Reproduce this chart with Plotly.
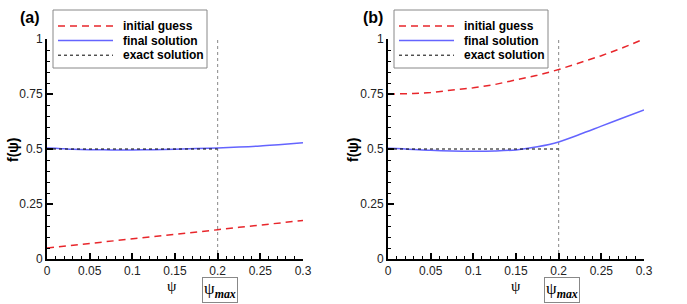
import plotly.graph_objects as go

# ---- data ----
psi = [0, 0.01, 0.02, 0.03, 0.05, 0.075, 0.1, 0.125, 0.15, 0.175, 0.2, 0.225, 0.25, 0.275, 0.3]

initial_a = [0.050, 0.054, 0.058, 0.062, 0.071, 0.081, 0.092, 0.102, 0.113, 0.123, 0.133, 0.144, 0.154, 0.165, 0.175]
final_a = [0.504, 0.503, 0.501, 0.499, 0.497, 0.496, 0.496, 0.497, 0.499, 0.502, 0.505, 0.509, 0.514, 0.521, 0.528]

initial_b = [0.750, 0.750, 0.751, 0.752, 0.757, 0.766, 0.778, 0.793, 0.813, 0.835, 0.861, 0.891, 0.924, 0.960, 1.000]
final_b = [0.503, 0.502, 0.500, 0.498, 0.494, 0.491, 0.490, 0.491, 0.496, 0.510, 0.532, 0.567, 0.604, 0.641, 0.677]

psi_exact = [0, 0.2]
exact = [0.5, 0.5]

psi_max = 0.2
vline_y = [0, 1]

series_names = ["initial guess", "final solution", "exact solution"]
panel_labels = ["(a)", "(b)"]

x_ticks = [0, 0.05, 0.1, 0.15, 0.2, 0.25, 0.3]
x_ticklabels = ["0", "0.05", "0.1", "0.15", "0.2", "0.25", "0.3"]
y_ticks = [0, 0.25, 0.5, 0.75, 1]
y_ticklabels = ["0", "0.25", "0.5", "0.75", "1"]

W, H = 687, 304
RED = "#e8262b"
BLUE = "#6464ff"
styles = [
    dict(color=RED, width=1.5, dash="7px,5px"),
    dict(color=BLUE, width=1.5),
    dict(color="black", width=1, dash="dot"),
]

fig = go.Figure()

panels = [
    ("x", "y", initial_a, final_a),
    ("x2", "y2", initial_b, final_b),
]
for xa, ya, ini, fin in panels:
    fig.add_trace(go.Scatter(x=[psi_max, psi_max], y=vline_y, mode="lines", xaxis=xa, yaxis=ya,
                             line=dict(color="#888888", width=1, dash="dot"), showlegend=False, hoverinfo="skip"))
    for name, xs, ys, st, shp in [(series_names[0], psi, ini, styles[0], "linear"),
                                  (series_names[1], psi, fin, styles[1], "spline"),
                                  (series_names[2], psi_exact, exact, styles[2], "linear")]:
        fig.add_trace(go.Scatter(x=xs, y=ys, mode="lines", name=name, xaxis=xa, yaxis=ya,
                                 line=dict(shape=shp, **st), showlegend=False))

def px_x(p):
    return p / W

def px_y(p):
    return 1 - p / H

ydom = [px_y(259), px_y(39)]
tickfont = dict(family="Liberation Sans, Arial, sans-serif", size=12, color="#222222")
common_x = dict(range=[0, 0.3], tickvals=x_ticks, ticktext=x_ticklabels, ticks="inside", ticklen=6, tickwidth=1.5,
                showline=True, linecolor="black", linewidth=2, showgrid=False, zeroline=False, tickfont=tickfont,
                minor=dict(dtick=0.01, ticks="inside", ticklen=3, tickwidth=1, tickcolor="black"), tickcolor="black",
                fixedrange=True, automargin=False)
common_y = dict(range=[0, 1], tickvals=y_ticks, ticktext=y_ticklabels, ticks="inside", ticklen=6, tickwidth=1.5,
                showline=True, linecolor="black", linewidth=2, showgrid=False, zeroline=False, tickfont=tickfont,
                minor=dict(dtick=0.05, ticks="inside", ticklen=3, tickwidth=1, tickcolor="black"), tickcolor="black",
                fixedrange=True, automargin=False)

fig.update_layout(
    width=W, height=H, autosize=False,
    margin=dict(l=0, r=0, t=0, b=0, pad=0, autoexpand=False),
    paper_bgcolor="white", plot_bgcolor="white",
    xaxis=dict(domain=[px_x(47), px_x(303)], anchor="y", **common_x),
    yaxis=dict(domain=ydom, anchor="x", **common_y),
    xaxis2=dict(domain=[px_x(388), px_x(644)], anchor="y2", **common_x),
    yaxis2=dict(domain=ydom, anchor="x2", **common_y),
    showlegend=False,
)

# ---- legends (drawn as boxed keys) ----
legend_font = dict(family="Liberation Sans, Arial, sans-serif", size=12, color="black", weight="bold")
for bx in [53, 394]:
    fig.add_shape(type="rect", xref="paper", yref="paper", x0=px_x(bx), x1=px_x(bx + 154),
                  y0=px_y(68), y1=px_y(10), line=dict(color="#888888", width=1), fillcolor="white", layer="above")
    for i, (name, st) in enumerate(zip(series_names, styles)):
        yy = 26 + 14.6 * i
        fig.add_shape(type="line", xref="paper", yref="paper", x0=px_x(bx + 5), x1=px_x(bx + 60),
                      y0=px_y(yy), y1=px_y(yy), line=st, layer="above")
        fig.add_annotation(x=px_x(bx + 68), y=px_y(yy), xref="paper", yref="paper", text=name,
                           showarrow=False, font=legend_font, xanchor="left", yanchor="middle")

title_font = dict(family="Liberation Sans, Arial, sans-serif", size=16, color="black", weight="bold")
psi_font = dict(family="Liberation Serif, Times New Roman, serif", size=15, color="black")
for lab, xc, ylabx, psix, pmx in zip(panel_labels, [30, 373], [13, 353], [172, 516], [219.5, 561.5]):
    fig.add_annotation(x=px_x(xc), y=px_y(17), xref="paper", yref="paper", text=lab, showarrow=False,
                       font=title_font, xanchor="center", yanchor="middle")
    fig.add_annotation(x=px_x(ylabx), y=px_y(150), xref="paper", yref="paper", text="f(ψ)", showarrow=False,
                       textangle=-90, font=dict(family="Liberation Sans, Arial, sans-serif", size=14,
                                               color="black", weight="bold"),
                       xanchor="center", yanchor="middle")
    fig.add_annotation(x=px_x(psix), y=px_y(286), xref="paper", yref="paper", text="ψ", showarrow=False,
                       font=psi_font, xanchor="center", yanchor="middle")
    fig.add_annotation(x=px_x(pmx), y=px_y(289.5), xref="paper", yref="paper",
                       text="ψ<sub><b><i>max</i></b></sub>", showarrow=False,
                       font=dict(family="Liberation Serif, Times New Roman, serif", size=17, color="black"),
                       bordercolor="#888888", borderwidth=1, borderpad=1, bgcolor="white",
                       xanchor="center", yanchor="middle")

fig.write_html("out.html", config={"displayModeBar": False},
               post_script="document.body.style.margin='0';document.body.style.overflow='hidden';")
